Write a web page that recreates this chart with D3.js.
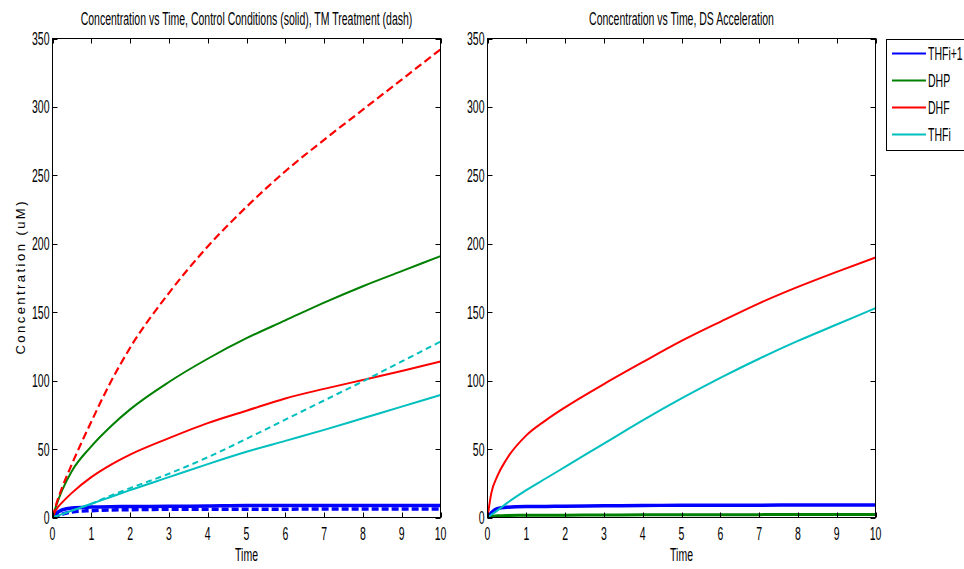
<!DOCTYPE html>
<html>
<head>
<meta charset="utf-8">
<script src="https://cdn.jsdelivr.net/npm/d3@7"></script>
<style>
  html, body { margin: 0; padding: 0; background: #fff; }
  svg { display: block; }
</style>
</head>
<body>
<svg id="chart" width="964" height="569"></svg>
<script>
// Time samples shared by every series
const time = [0, 0.1, 0.25, 0.5, 1, 1.5, 2, 3, 4, 5, 6, 7, 8, 9, 10];

// Left panel: control conditions (solid)
const ctrlTHFi1 = [0, 3, 5.5, 7, 7.6, 7.9, 8, 8.2, 8.4, 8.7, 8.7, 8.8, 8.8, 8.8, 8.8];
const ctrlDHP   = [0, 9, 20, 34, 52, 66.5, 79, 99, 116, 131, 144, 157, 169, 180, 191];
const ctrlDHF   = [0, 6, 11, 18, 29.5, 38.5, 46, 58, 69, 78, 87, 94, 100.5, 107, 114];
const ctrlTHFi  = [0, 1, 2.5, 5, 10, 15, 20, 29.5, 39, 48, 56, 64, 72.5, 81, 89.5];

// Left panel: TM treatment (dashed)
const tmTHFi1 = [0, 1, 2.5, 4, 5, 5.5, 5.7, 6, 6, 6.1, 6.1, 6.2, 6.2, 6.2, 6.2];
const tmDHF   = [0, 10, 22, 39, 70, 99, 124, 164, 198, 227, 253, 276, 298, 320, 342];
const tmTHFi  = [0, 1, 2.5, 5, 10, 16, 21.5, 32, 44, 57.5, 71.5, 85.5, 99.5, 114, 128.5];

// Right panel: DS acceleration
const dsTHFi1 = [0, 3.5, 6.5, 7.5, 8, 8.1, 8.2, 8.5, 8.8, 8.9, 9, 9, 9.1, 9.2, 9.2];
const dsDHP   = [0, 0.8, 1.2, 1.5, 1.6, 1.6, 1.7, 1.8, 2, 2, 2.1, 2.1, 2.2, 2.2, 2.2];
const dsDHF   = [0, 18, 30, 43, 60, 71, 80.5, 97.5, 113.5, 129, 143, 156.5, 168.5, 179.5, 190];
const dsTHFi  = [0, 2, 5, 10.5, 20, 28.5, 37, 54, 71, 87, 102, 116, 129, 141, 153];

// Axis ticks, titles and legend labels
const xTicks = [0, 1, 2, 3, 4, 5, 6, 7, 8, 9, 10];
const yTicks = [0, 50, 100, 150, 200, 250, 300, 350];
const titles = ["Concentration vs Time, Control Conditions (solid), TM Treatment (dash)",
                "Concentration vs Time, DS Acceleration"];
const legendNames = ["THFi+1", "DHP", "DHF", "THFi"];
const colors = { "THFi+1": "#0000FF", "DHP": "#008000", "DHF": "#FF0000", "THFi": "#00BFBF" };

const svg = d3.select("#chart");
const FONT = "'Liberation Sans', Arial, sans-serif";
const FS = 17.5, SX = 0.6;   // tall, condensed lettering

function label(g, x, y, txt, anchor) {
  return g.append("text")
    .attr("transform", `translate(${x},${y}) scale(${SX},1)`)
    .attr("text-anchor", anchor)
    .attr("font-family", FONT)
    .attr("font-size", FS)
    .attr("fill", "#000")
    .text(txt);
}

const yTop = 38.5, yBot = 517.5;
const panels = [
  { x0: 52.5, x1: 440.5, title: titles[0], id: "L", series: [
      { name: "THFi+1", v: ctrlTHFi1, dash: null, w: 3.5 },
      { name: "THFi+1", v: tmTHFi1, dash: "7,3", w: 3.5 },
      { name: "DHP", v: ctrlDHP, dash: null, w: 2 },
      { name: "DHF", v: tmDHF, dash: "8,4", w: 2.2 },
      { name: "DHF", v: ctrlDHF, dash: null, w: 2 },
      { name: "THFi", v: tmTHFi, dash: "6,4", w: 2 },
      { name: "THFi", v: ctrlTHFi, dash: null, w: 2 }
  ]},
  { x0: 487.5, x1: 875.5, title: titles[1], id: "R", series: [
      { name: "DHP", v: dsDHP, dash: null, w: 3 },
      { name: "THFi+1", v: dsTHFi1, dash: null, w: 3.5 },
      { name: "DHF", v: dsDHF, dash: null, w: 2 },
      { name: "THFi", v: dsTHFi, dash: null, w: 2 }
  ]}
];

const y = d3.scaleLinear().domain([0, 350]).range([yBot, yTop]);

panels.forEach(p => {
  const x = d3.scaleLinear().domain([0, 10]).range([p.x0, p.x1]);
  const g = svg.append("g");

  g.append("clipPath").attr("id", "clip" + p.id)
    .append("rect").attr("x", p.x0).attr("y", yTop).attr("width", p.x1 - p.x0).attr("height", yBot - yTop);

  const line = d3.line().x((d, i) => x(time[i])).y(d => y(d)).curve(d3.curveMonotoneX);
  const plot = g.append("g").attr("clip-path", `url(#clip${p.id})`);
  p.series.forEach(s => {
    plot.append("path")
      .attr("d", line(s.v))
      .attr("fill", "none")
      .attr("stroke", colors[s.name])
      .attr("stroke-width", s.w)
      .attr("stroke-dasharray", s.dash)
      .attr("stroke-linejoin", "round");
  });

  // frame
  g.append("rect").attr("x", p.x0).attr("y", yTop).attr("width", p.x1 - p.x0).attr("height", yBot - yTop)
    .attr("fill", "none").attr("stroke", "#000").attr("stroke-width", 1);

  // inward ticks on all four sides
  const tl = 5;
  xTicks.forEach(t => {
    const xx = Math.round(x(t)) + 0.5;
    g.append("line").attr("x1", xx).attr("x2", xx).attr("y1", yBot).attr("y2", yBot - tl).attr("stroke", "#000");
    g.append("line").attr("x1", xx).attr("x2", xx).attr("y1", yTop).attr("y2", yTop + tl).attr("stroke", "#000");
    label(g, x(t), 540, String(t), "middle");
  });
  yTicks.forEach(t => {
    const yy = Math.round(y(t)) + 0.5;
    g.append("line").attr("x1", p.x0).attr("x2", p.x0 + tl).attr("y1", yy).attr("y2", yy).attr("stroke", "#000");
    g.append("line").attr("x1", p.x1).attr("x2", p.x1 - tl).attr("y1", yy).attr("y2", yy).attr("stroke", "#000");
    label(g, p.x0 - 3, y(t) + 6.5, String(t), "end");
  });

  label(g, (p.x0 + p.x1) / 2, 25, p.title, "middle");
  label(g, (p.x0 + p.x1) / 2, 561, "Time", "middle");
});

// y-axis title on the left panel
svg.append("text")
  .attr("transform", `translate(25,${(yTop + yBot) / 2}) rotate(-90)`)
  .attr("text-anchor", "middle")
  .attr("font-family", FONT)
  .attr("font-size", 13)
  .attr("textLength", 153)
  .attr("lengthAdjust", "spacing")
  .text("Concentration (uM)");

// legend
const lg = svg.append("g");
lg.append("rect").attr("x", 886.5).attr("y", 39.5).attr("width", 100).attr("height", 111)
  .attr("fill", "#fff").attr("stroke", "#000");
legendNames.forEach((n, i) => {
  const ly = 53.5 + i * 27;
  lg.append("line").attr("x1", 892).attr("x2", 926).attr("y1", ly).attr("y2", ly)
    .attr("stroke", colors[n]).attr("stroke-width", 2);
  label(lg, 928, ly + 6.5, n, "start");
});
</script>
</body>
</html>
